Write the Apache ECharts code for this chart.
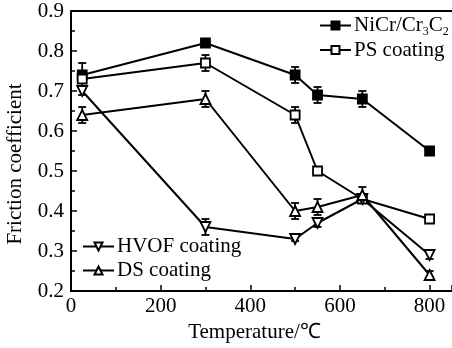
<!DOCTYPE html>
<html><head><meta charset="utf-8">
<script src="https://cdn.jsdelivr.net/npm/echarts@6/dist/echarts.min.js"></script>
<style>html,body{margin:0;padding:0;background:#fff}#c{width:452px;height:348px}</style>
</head><body><div id="c"></div>
<script>
var temps = [25, 300, 500, 550, 650, 800];
var nicr = [0.74, 0.82, 0.74, 0.69, 0.68, 0.55];
var nicrErr = [0.03, 0.005, 0.02, 0.02, 0.02, 0.005];
var ps = [0.73, 0.77, 0.64, 0.50, 0.43, 0.38];
var psErr = [0.01, 0.02, 0.02, 0.005, 0.01, 0.005];
var hvof = [0.70, 0.36, 0.33, 0.37, 0.43, 0.29];
var hvofErr = [0.01, 0.02, 0.005, 0.01, 0.01, 0.01];
var ds = [0.64, 0.68, 0.40, 0.41, 0.44, 0.24];
var dsErr = [0.02, 0.02, 0.02, 0.02, 0.02, 0.01];
var xTicks = [0, 200, 400, 600, 800];
var yTicks = [0.2, 0.3, 0.4, 0.5, 0.6, 0.7, 0.8, 0.9];

var FONT = 'Liberation Serif';
function pts(v){ return temps.map(function(t,i){ return [t, v[i]]; }); }
function errs(v,e){ return temps.map(function(t,i){ return [t, v[i]-e[i], v[i]+e[i]]; }); }
function errSeries(v,e){
  return {
    type:'custom', silent:true, z:1,
    data: errs(v,e),
    encode:{x:0, y:[1,2]},
    renderItem:function(params, api){
      var lo = api.coord([api.value(0), api.value(1)]);
      var hi = api.coord([api.value(0), api.value(2)]);
      var w = 4;
      var st = {stroke:'#000', lineWidth:1.8};
      return {type:'group', children:[
        {type:'line', shape:{x1:lo[0],y1:lo[1],x2:hi[0],y2:hi[1]}, style:st},
        {type:'line', shape:{x1:lo[0]-w,y1:lo[1],x2:lo[0]+w,y2:lo[1]}, style:st},
        {type:'line', shape:{x1:hi[0]-w,y1:hi[1],x2:hi[0]+w,y2:hi[1]}, style:st}
      ]};
    }
  };
}
function lineSeries(name, v, symbol, fill, rot, size){
  return {
    name:name, type:'line', data:pts(v), z:3,
    symbol:symbol, symbolSize:size, symbolRotate:rot||0, showSymbol:true,
    lineStyle:{color:'#000', width:2},
    itemStyle:{color:fill, borderColor:'#000', borderWidth:1.8},
    emphasis:{disabled:true}
  };
}
var legendText = {
  fontFamily:FONT, fontSize:21, color:'#000', padding:[0,0,0,-2],
  rich:{
    n:{fontFamily:FONT, fontSize:21, color:'#000'},
    s:{fontFamily:FONT, fontSize:12, color:'#000', padding:[12,0,0,0]}
  }
};
var chart = echarts.init(document.getElementById('c'));
chart.setOption({
  animation:false,
  backgroundColor:'#fff',
  grid:{left:71, top:11, width:383, height:280},
  xAxis:{
    type:'value', min:0, max:850, interval:200,
    name:'Temperature/℃', nameLocation:'middle', nameGap:31,
    nameTextStyle:{fontFamily:FONT, fontSize:21, color:'#000', padding:[0,0,0,-14]},
    axisLine:{show:true, lineStyle:{color:'#000', width:2}},
    axisTick:{show:true, inside:true, length:6, lineStyle:{color:'#000', width:1.5}},
    minorTick:{show:true, splitNumber:2, length:4, lineStyle:{color:'#000', width:1.5}},
    axisLabel:{fontFamily:FONT, fontSize:21, color:'#000', margin:5, showMaxLabel:false,
      formatter:function(v){ return xTicks.indexOf(v)>=0 ? String(v) : ''; }},
    splitLine:{show:false}
  },
  yAxis:{
    type:'value', min:0.2, max:0.9, interval:0.1,
    axisLine:{show:true, lineStyle:{color:'#000', width:2}},
    axisTick:{show:true, inside:true, length:6, lineStyle:{color:'#000', width:1.5}},
    minorTick:{show:true, splitNumber:2, length:4, lineStyle:{color:'#000', width:1.5}},
    axisLabel:{fontFamily:FONT, fontSize:21, color:'#000', margin:7,
      formatter:function(v){ var r=Math.round(v*10)/10; return yTicks.indexOf(r)>=0 ? r.toFixed(1) : ''; }},
    splitLine:{show:false}
  },
  graphic:[
    {type:'line', shape:{x1:71,y1:11,x2:452,y2:11}, style:{stroke:'#000', lineWidth:2}, silent:true},
    {type:'text', x:15, y:164, rotation:Math.PI/2, silent:true,
     style:{text:'Friction coefficient', font:'21px "Liberation Serif"', fill:'#000', textAlign:'center', textVerticalAlign:'middle'}}
  ],
  legend:[
    {data:['NiCr/Cr3C2','PS coating'], orient:'vertical', left:319, top:15, padding:0, itemWidth:31, itemHeight:10, itemGap:2,
     textStyle:legendText,
     formatter:function(n){ return n==='NiCr/Cr3C2' ? '{n|NiCr/Cr}{s|3}{n|C}{s|2}' : '{n|'+n+'}'; }},
    {data:['HVOF coating','DS coating'], orient:'vertical', left:82, top:236, padding:0, itemWidth:31, itemHeight:10, itemGap:3,
     textStyle:legendText}
  ],
  series:[
    errSeries(nicr,nicrErr), errSeries(ps,psErr), errSeries(hvof,hvofErr), errSeries(ds,dsErr),
    lineSeries('NiCr/Cr3C2', nicr, 'rect', '#000', 0, 9),
    lineSeries('PS coating', ps, 'rect', '#fff', 0, 9),
    lineSeries('HVOF coating', hvof, 'triangle', '#fff', 180, 10),
    lineSeries('DS coating', ds, 'triangle', '#fff', 0, 10)
  ]
});
</script></body></html>
